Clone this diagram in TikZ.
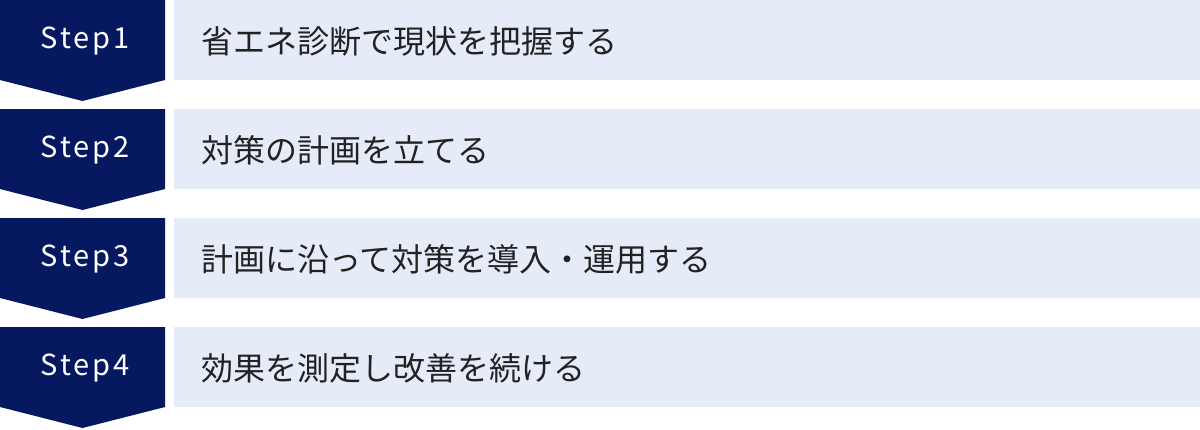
\documentclass[tikz,border=0pt]{standalone}
\usepackage{fontspec}
\setmainfont{Noto Sans CJK JP}
\newfontfamily\stepfont[LetterSpace=10]{Noto Sans CJK JP}
\definecolor{navy}{HTML}{061960}
\definecolor{lightbg}{HTML}{E6EBF8}
\definecolor{txt}{HTML}{222222}
\begin{document}
\begin{tikzpicture}[x=1pt,y=-1pt,
  stepshape/.style={fill=navy,draw=none},
  barbox/.style={fill=lightbg,draw=none},
  steplabel/.style={text=white,font=\stepfont\fontsize{29}{32}\selectfont,inner sep=0pt,anchor=center},
  barlabel/.style={text=txt,font=\fontsize{32}{36}\selectfont,inner sep=0pt,anchor=west}]
\useasboundingbox (0,0) rectangle (1200,429);
\foreach \i/\t in {0/省エネ診断で現状を把握する,1/対策の計画を立てる,2/計画に沿って対策を導入・運用する,3/効果を測定し改善を続ける}{
  \pgfmathsetmacro{\top}{109*\i}
  \pgfmathtruncatemacro{\n}{\i+1}
  \fill[stepshape] (0,\top) -- (165,\top) -- (165,\top+80) -- (82.5,\top+101) -- (0,\top+80) -- cycle;
  \fill[barbox] (174,\top) rectangle (1200,\top+80);
  \node[steplabel] (s\n) at (85,\top+41) {Step\n};
  \node[barlabel] (b\n) at (201,\top+41) {\t};
}
\end{tikzpicture}
\end{document}
